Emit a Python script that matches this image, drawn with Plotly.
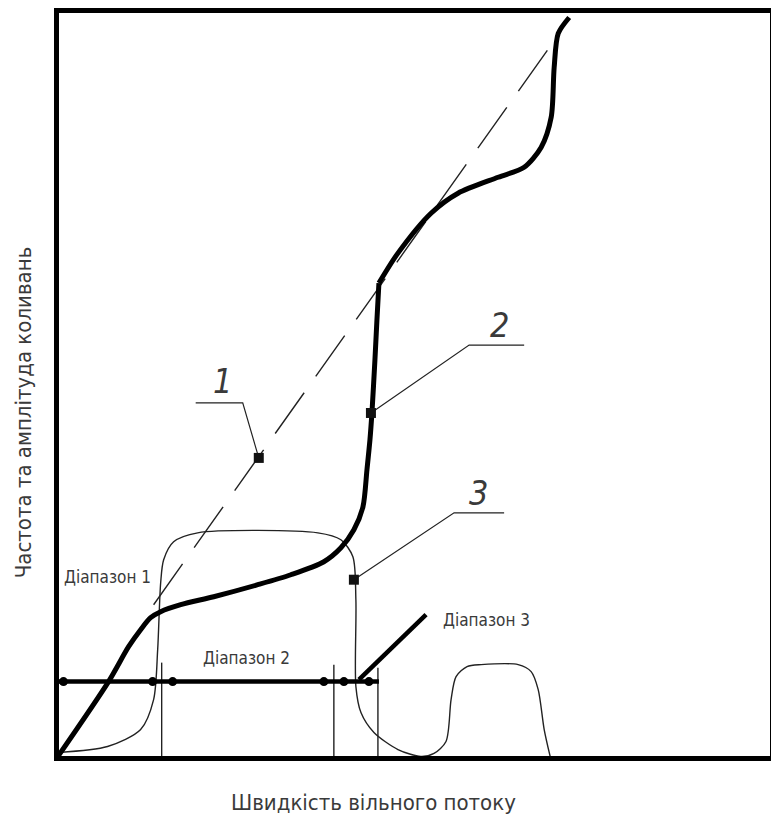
import plotly.graph_objects as go

# ---- data (normalised units: speed 0..100, frequency/amplitude 0..100) ----
# Curve 2 (thick): lower branch up to the kink
curve2_low_x = [0, 7.30, 10.11, 11.80, 13.20, 14.61, 17.42, 22.05, 28.23, 32.87, 37.50, 39.89,
                41.71, 42.98, 43.54, 43.96, 44.24, 44.66, 44.94, 45.22]
curve2_low_y = [0, 10.27, 14.93, 17.2, 18.8, 19.6, 20.53, 21.6, 23.2, 24.53, 26.27, 28.13,
                30.53, 33.6, 38.53, 42.53, 46.13, 53.2, 58.53, 63.47]
# Curve 2 (thick): upper branch from the kink
curve2_up_x = [45.22, 47.89, 52.53, 56.32, 61.94, 65.59, 67.98, 69.38, 69.80, 70.37, 71.91]
curve2_up_y = [63.47, 67.47, 72.8, 75.47, 77.6, 78.93, 81.6, 85.6, 92.27, 96.8, 98.93]
# Curve 1 (dashed straight line)
curve1_x = [13.62, 70.22]
curve1_y = [20.53, 96.4]
# Curve 3 (thin, amplitude distribution)
curve3_x = [0.2, 7.16, 11.80, 13.62, 14.19, 14.61, 15.03, 16.43, 19.80, 36.66, 39.89, 41.57,
            41.99, 41.99, 42.70, 44.52, 47.89, 51.12, 52.95, 54.63, 55.34, 56.04, 57.58,
            59.55, 64.75, 66.57, 67.56, 68.40, 69.24]
curve3_y = [0.8, 1.6, 3.87, 7.87, 14.53, 23.47, 26.53, 28.93, 30.13, 30.13, 29.2, 26.93,
            21.2, 9.6, 6.13, 3.47, 1.2, 0.27, 0.67, 2.27, 7.87, 10.93, 12.27,
            12.53, 12.53, 11.6, 9.2, 3.87, 0.27]
# Range bar and its dimension marks
range_bar_x = [0, 45.22]
range_bar_y = [10.27, 10.27]
range_marks_x = [0.98, 13.48, 16.29, 37.50, 40.31, 43.82]
# Extension (boundary) lines
bound_x = [14.75, 38.90, 45.08]
bound_top = [12.8, 12.53, 12.13]
# Leader of "Діапазон 3"
leader3_x = [42.42, 51.83]
leader3_y = [10.53, 19.2]
# Callouts 1, 2, 3: marker point, elbow, shelf end, label position
callout_names = ["1", "2", "3"]
callout_pt_x = [28.37, 44.10, 41.71]
callout_pt_y = [40.13, 46.13, 23.87]
callout_elb_x = [26.12, 57.87, 55.76]
callout_elb_y = [47.47, 55.2, 32.8]
callout_end_x = [19.52, 65.59, 62.78]
callout_lab_x = [23.31, 62.08, 59.13]
callout_lab_y = [50.4, 57.87, 35.47]
# Range labels
range_labels = ["Діапазон 1", "Діапазон 2", "Діапазон 3"]
range_lab_x = [7.16, 26.69, 53.93]
range_lab_y = [24.27, 13.47, 18.53]
range_lab_anchor = ["center", "center", "left"]

x_title = "Швидкість вільного потоку"
y_title = "Частота та амплітуда коливань"

FONT = "Liberation Sans Narrow, DejaVu Sans Condensed, sans-serif"
TXT = "#3a3a3a"

fig = go.Figure()

# thin curve 3
fig.add_trace(go.Scatter(x=curve3_x, y=curve3_y, mode="lines",
                         line=dict(color="#222", width=1.4, shape="spline", smoothing=0.8)))
# boundary lines
for bx, bt in zip(bound_x, bound_top):
    fig.add_trace(go.Scatter(x=[bx, bx], y=[0, bt], mode="lines",
                             line=dict(color="#222", width=1.4)))
# dashed line 1
fig.add_trace(go.Scatter(x=curve1_x, y=curve1_y, mode="lines",
                         line=dict(color="#222", width=1.4, dash="50px,20px")))
# thick curve 2
fig.add_trace(go.Scatter(x=curve2_low_x, y=curve2_low_y, mode="lines",
                         line=dict(color="black", width=5, shape="spline", smoothing=0.8)))
fig.add_trace(go.Scatter(x=curve2_up_x, y=curve2_up_y, mode="lines",
                         line=dict(color="black", width=5, shape="spline", smoothing=0.8)))
# range bar
fig.add_trace(go.Scatter(x=range_bar_x, y=range_bar_y, mode="lines",
                         line=dict(color="black", width=4.5)))
fig.add_trace(go.Scatter(x=range_marks_x, y=[range_bar_y[0]] * len(range_marks_x), mode="markers",
                         marker=dict(color="black", size=9, symbol="circle")))
# leader for range 3
fig.add_trace(go.Scatter(x=leader3_x, y=leader3_y, mode="lines",
                         line=dict(color="black", width=4.5)))
# callouts
for i in range(3):
    fig.add_trace(go.Scatter(x=[callout_pt_x[i], callout_elb_x[i], callout_end_x[i]],
                             y=[callout_pt_y[i], callout_elb_y[i], callout_elb_y[i]],
                             mode="lines", line=dict(color="#222", width=1.2)))
    fig.add_trace(go.Scatter(x=[callout_pt_x[i]], y=[callout_pt_y[i]], mode="markers",
                             marker=dict(color="#111", size=10, symbol="square")))
    fig.add_annotation(x=callout_lab_x[i], y=callout_lab_y[i], text=callout_names[i],
                       showarrow=False, xanchor="center", yanchor="middle",
                       font=dict(family=FONT, size=34, color=TXT, style="italic"))

for t, lx, ly, anc in zip(range_labels, range_lab_x, range_lab_y, range_lab_anchor):
    fig.add_annotation(x=lx, y=ly, text=t, showarrow=False, xanchor=anc, yanchor="middle",
                       font=dict(family=FONT, size=17, color=TXT))

# axis titles as annotations (paper coordinates relative to plot area)
fig.add_annotation(xref="paper", yref="paper", x=0.4424, y=-0.062, text=x_title, showarrow=False,
                   xanchor="center", yanchor="middle",
                   font=dict(family=FONT, size=22, color=TXT))
fig.add_annotation(xref="paper", yref="paper", x=-0.0506, y=0.4627, text=y_title, showarrow=False,
                   xanchor="center", yanchor="middle", textangle=-90,
                   font=dict(family=FONT, size=22, color=TXT))

axis_common = dict(showgrid=False, zeroline=False, showticklabels=False, ticks="",
                   showline=True, mirror=True, linewidth=5, linecolor="black")
fig.update_xaxes(range=[0.351, 100.07], **axis_common)
fig.update_yaxes(range=[0.333, 99.53], **axis_common)
fig.update_layout(width=771, height=820, showlegend=False,
                  margin=dict(l=58.5, r=0.5, t=12.5, b=63.5, autoexpand=False),
                  plot_bgcolor="white", paper_bgcolor="white")

fig.write_html("out.html", config={"displayModeBar": False},
               post_script="document.body.style.margin='0';document.body.style.overflow='hidden';")
